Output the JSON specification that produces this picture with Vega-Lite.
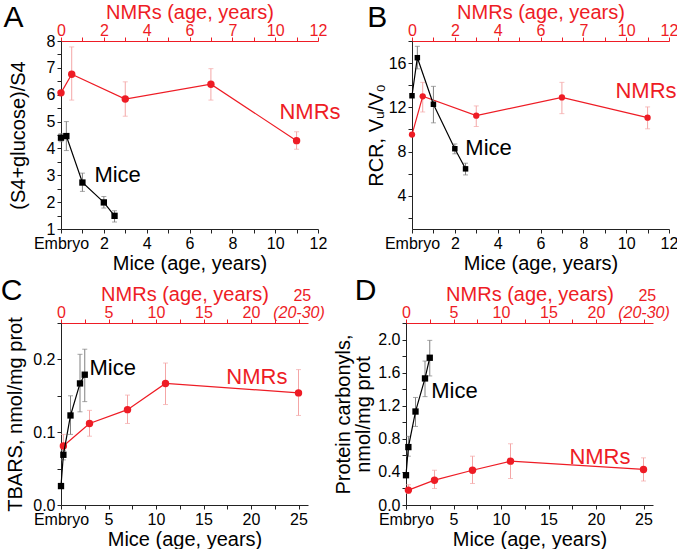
{
"$schema": "https://vega.github.io/schema/vega-lite/v6.json",
"padding": {"left": 0, "top": 2, "right": 0, "bottom": 0},
"background": "white",
"config": {
 "font": "Liberation Sans",
 "view": {"stroke": null},
 "axis": {"grid": false, "labelFontSize": 16, "titleFontSize": 20, "titleFontWeight": "normal", "labelColor": "black", "titleColor": "black", "domainColor": "#222", "tickColor": "#222", "labelFlush": false, "labelOverlap": false, "tickSize": 4, "labelPadding": 2, "titleLineHeight": 20}
},
"datasets": {
 "a": [
  {"sp": "NMR", "age": 0, "v": 6.07, "lo": null, "hi": null},
  {"sp": "NMR", "age": 0.5, "v": 6.76, "lo": 5.8, "hi": 7.78},
  {"sp": "NMR", "age": 3, "v": 5.84, "lo": 5.2, "hi": 6.48},
  {"sp": "NMR", "age": 7, "v": 6.39, "lo": 5.8, "hi": 6.97},
  {"sp": "NMR", "age": 11, "v": 4.29, "lo": 3.97, "hi": 4.62},
  {"sp": "Mice", "age": 0, "v": 4.4, "lo": 4.25, "hi": 4.55},
  {"sp": "Mice", "age": 0.25, "v": 4.46, "lo": 3.92, "hi": 5.0},
  {"sp": "Mice", "age": 1, "v": 2.73, "lo": 2.4, "hi": 3.08},
  {"sp": "Mice", "age": 2, "v": 1.99, "lo": 1.78, "hi": 2.21},
  {"sp": "Mice", "age": 2.5, "v": 1.49, "lo": 1.26, "hi": 1.68}
 ],
 "b": [
  {"sp": "NMR", "age": 0, "v": 9.54, "lo": null, "hi": null},
  {"sp": "NMR", "age": 0.5, "v": 13.0, "lo": 11.58, "hi": 14.26},
  {"sp": "NMR", "age": 3, "v": 11.25, "lo": 10.27, "hi": 12.13},
  {"sp": "NMR", "age": 7, "v": 12.9, "lo": 11.43, "hi": 14.26},
  {"sp": "NMR", "age": 11, "v": 11.07, "lo": 10.06, "hi": 12.04},
  {"sp": "Mice", "age": 0, "v": 13.05, "lo": null, "hi": null},
  {"sp": "Mice", "age": 0.25, "v": 16.49, "lo": 15.48, "hi": 17.52},
  {"sp": "Mice", "age": 1, "v": 12.28, "lo": 10.6, "hi": 13.9},
  {"sp": "Mice", "age": 2, "v": 8.26, "lo": 7.8, "hi": 8.69},
  {"sp": "Mice", "age": 2.5, "v": 6.44, "lo": 5.89, "hi": 6.95}
 ],
 "c": [
  {"sp": "NMR", "age": 0.25, "v": 0.081, "lo": 0.072, "hi": 0.097},
  {"sp": "NMR", "age": 3, "v": 0.112, "lo": 0.0945, "hi": 0.13},
  {"sp": "NMR", "age": 7, "v": 0.131, "lo": 0.112, "hi": 0.151},
  {"sp": "NMR", "age": 11, "v": 0.167, "lo": 0.138, "hi": 0.195},
  {"sp": "NMR", "age": 25, "v": 0.154, "lo": 0.123, "hi": 0.186},
  {"sp": "Mice", "age": 0, "v": 0.026, "lo": null, "hi": null},
  {"sp": "Mice", "age": 0.25, "v": 0.069, "lo": 0.062, "hi": 0.075},
  {"sp": "Mice", "age": 1, "v": 0.123, "lo": 0.097, "hi": 0.15},
  {"sp": "Mice", "age": 2, "v": 0.167, "lo": 0.128, "hi": 0.207},
  {"sp": "Mice", "age": 2.5, "v": 0.179, "lo": 0.142, "hi": 0.214}
 ],
 "d": [
  {"sp": "NMR", "age": 0.25, "v": 0.18, "lo": 0.14, "hi": 0.245},
  {"sp": "NMR", "age": 3, "v": 0.3, "lo": 0.2, "hi": 0.42},
  {"sp": "NMR", "age": 7, "v": 0.42, "lo": 0.26, "hi": 0.59},
  {"sp": "NMR", "age": 11, "v": 0.53, "lo": 0.32, "hi": 0.74},
  {"sp": "NMR", "age": 25, "v": 0.43, "lo": 0.29, "hi": 0.57},
  {"sp": "Mice", "age": 0, "v": 0.36, "lo": null, "hi": null},
  {"sp": "Mice", "age": 0.25, "v": 0.7, "lo": 0.59, "hi": 0.83},
  {"sp": "Mice", "age": 1, "v": 1.13, "lo": 0.95, "hi": 1.3},
  {"sp": "Mice", "age": 2, "v": 1.53, "lo": 1.31, "hi": 1.74},
  {"sp": "Mice", "age": 2.5, "v": 1.78, "lo": 1.56, "hi": 1.99}
 ]
},
"concat": [
 {"spacing": 25, "hconcat": [
  {
   "width": 257, "height": 188,
   "resolve": {"scale": {"x": "independent"}},
   "layer": [
    {
     "data": {"name": "a"},
     "transform": [{"filter": "datum.sp == 'NMR'"}],
     "encoding": {"x": {"field": "age", "type": "quantitative", "scale": {"domain": [0, 12], "nice": false},
       "axis": {"orient": "top", "title": "NMRs (age, years)", "values": [0,1,2,3,4,5,6,7,8,9,10,11,12], "labelOverlap": false, "labelExpr": "datum.value == 8 ? '7' : (datum.value % 2 == 0 ? datum.label : '')", "domainColor": "#ee1c25", "tickColor": "#ee1c25", "labelColor": "#ee1c25", "titleColor": "#ee1c25", "labelPadding": -1, "titlePadding": 0}}},
     "layer": [
      {"transform": [{"filter": "isValid(datum.lo)"}], "mark": {"type": "errorbar", "color": "#f4a6a6", "ticks": {"size": 5}}, "encoding": {"y": {"field": "lo", "type": "quantitative", "scale": {"domain": [1, 8], "nice": false}, "title": "(S4+glucose)/S4", "axis": {"values": [1,1.5,2,2.5,3,3.5,4,4.5,5,5.5,6,6.5,7,7.5,8], "labelOverlap": false, "labelExpr": "datum.value % 1 == 0 ? format(datum.value, 'd') : ''", "titlePadding": 18}}, "y2": {"field": "hi"}}},
      {"mark": {"type": "line", "color": "#ee1c25", "strokeWidth": 1.2}, "encoding": {"y": {"field": "v", "type": "quantitative", "scale": {"domain": [1, 8], "nice": false}, "title": "(S4+glucose)/S4", "axis": {"values": [1,1.5,2,2.5,3,3.5,4,4.5,5,5.5,6,6.5,7,7.5,8], "labelOverlap": false, "labelExpr": "datum.value % 1 == 0 ? format(datum.value, 'd') : ''", "titlePadding": 18}}}},
      {"mark": {"type": "point", "filled": true, "shape": "circle", "size": 55, "color": "#ee1c25", "opacity": 1}, "encoding": {"y": {"field": "v", "type": "quantitative", "scale": {"domain": [1, 8], "nice": false}, "title": "(S4+glucose)/S4", "axis": {"values": [1,1.5,2,2.5,3,3.5,4,4.5,5,5.5,6,6.5,7,7.5,8], "labelOverlap": false, "labelExpr": "datum.value % 1 == 0 ? format(datum.value, 'd') : ''", "titlePadding": 18}}}}
     ]
    },
    {
     "data": {"name": "a"},
     "transform": [{"filter": "datum.sp == 'Mice'"}],
     "encoding": {"x": {"field": "age", "type": "quantitative", "scale": {"domain": [0, 12], "nice": false},
       "axis": {"orient": "bottom", "title": "Mice (age, years)", "values": [0,1,2,3,4,5,6,7,8,9,10,11,12], "labelOverlap": false, "labelExpr": "datum.value == 0 ? 'Embryo' : (datum.value % 2 == 0 ? datum.label : '')", "titlePadding": 2}}},
     "layer": [
      {"transform": [{"filter": "isValid(datum.lo)"}], "mark": {"type": "errorbar", "color": "#808080", "ticks": {"size": 5}}, "encoding": {"y": {"field": "lo", "type": "quantitative", "scale": {"domain": [1, 8], "nice": false}, "title": "(S4+glucose)/S4", "axis": {"values": [1,1.5,2,2.5,3,3.5,4,4.5,5,5.5,6,6.5,7,7.5,8], "labelOverlap": false, "labelExpr": "datum.value % 1 == 0 ? format(datum.value, 'd') : ''", "titlePadding": 18}}, "y2": {"field": "hi"}}},
      {"mark": {"type": "line", "color": "black", "strokeWidth": 1.2}, "encoding": {"y": {"field": "v", "type": "quantitative", "scale": {"domain": [1, 8], "nice": false}, "title": "(S4+glucose)/S4", "axis": {"values": [1,1.5,2,2.5,3,3.5,4,4.5,5,5.5,6,6.5,7,7.5,8], "labelOverlap": false, "labelExpr": "datum.value % 1 == 0 ? format(datum.value, 'd') : ''", "titlePadding": 18}}}},
      {"mark": {"type": "point", "filled": true, "shape": "square", "size": 40, "color": "black", "opacity": 1}, "encoding": {"y": {"field": "v", "type": "quantitative", "scale": {"domain": [1, 8], "nice": false}, "title": "(S4+glucose)/S4", "axis": {"values": [1,1.5,2,2.5,3,3.5,4,4.5,5,5.5,6,6.5,7,7.5,8], "labelOverlap": false, "labelExpr": "datum.value % 1 == 0 ? format(datum.value, 'd') : ''", "titlePadding": 18}}}}
     ]
    },
    {
     "data": {"values": [{}]},
     "layer": [
      {"mark": {"type": "text", "text": "A", "color": "black", "fontSize": 30, "align": "left", "baseline": "alphabetic"}, "encoding": {"x": {"datum": -2.68, "type": "quantitative", "scale": {"domain": [0, 12], "nice": false}, "axis": null}, "y": {"datum": 8.52, "type": "quantitative", "scale": {"domain": [1, 8], "nice": false}, "title": "(S4+glucose)/S4", "axis": {"values": [1,1.5,2,2.5,3,3.5,4,4.5,5,5.5,6,6.5,7,7.5,8], "labelOverlap": false, "labelExpr": "datum.value % 1 == 0 ? format(datum.value, 'd') : ''", "titlePadding": 18}}}},
      {"mark": {"type": "text", "text": "NMRs", "color": "#ee1c25", "fontSize": 22, "align": "left", "baseline": "middle"}, "encoding": {"x": {"datum": 10.2, "type": "quantitative", "scale": {"domain": [0, 12], "nice": false}, "axis": null}, "y": {"datum": 5.37, "type": "quantitative", "scale": {"domain": [1, 8], "nice": false}, "title": "(S4+glucose)/S4", "axis": {"values": [1,1.5,2,2.5,3,3.5,4,4.5,5,5.5,6,6.5,7,7.5,8], "labelOverlap": false, "labelExpr": "datum.value % 1 == 0 ? format(datum.value, 'd') : ''", "titlePadding": 18}}}},
      {"mark": {"type": "text", "text": "Mice", "color": "black", "fontSize": 22, "align": "left", "baseline": "middle"}, "encoding": {"x": {"datum": 1.56, "type": "quantitative", "scale": {"domain": [0, 12], "nice": false}, "axis": null}, "y": {"datum": 3.0, "type": "quantitative", "scale": {"domain": [1, 8], "nice": false}, "title": "(S4+glucose)/S4", "axis": {"values": [1,1.5,2,2.5,3,3.5,4,4.5,5,5.5,6,6.5,7,7.5,8], "labelOverlap": false, "labelExpr": "datum.value % 1 == 0 ? format(datum.value, 'd') : ''", "titlePadding": 18}}}}
     ]
    }
   ]
  },
  {
   "width": 257, "height": 188,
   "resolve": {"scale": {"x": "independent"}},
   "layer": [
    {
     "data": {"name": "b"},
     "transform": [{"filter": "datum.sp == 'NMR'"}],
     "encoding": {"x": {"field": "age", "type": "quantitative", "scale": {"domain": [0, 12], "nice": false},
       "axis": {"orient": "top", "title": "NMRs (age, years)", "values": [0,1,2,3,4,5,6,7,8,9,10,11,12], "labelOverlap": false, "labelExpr": "datum.value == 8 ? '7' : (datum.value % 2 == 0 ? datum.label : '')", "domainColor": "#ee1c25", "tickColor": "#ee1c25", "labelColor": "#ee1c25", "titleColor": "#ee1c25", "labelPadding": -1, "titlePadding": 0}}},
     "layer": [
      {"transform": [{"filter": "isValid(datum.lo)"}], "mark": {"type": "errorbar", "color": "#f4a6a6", "ticks": {"size": 5}}, "encoding": {"y": {"field": "lo", "type": "quantitative", "scale": {"domain": [1, 18], "nice": false}, "title": "RCR, Vᵤ/V₀", "axis": {"values": [2,4,6,8,10,12,14,16,18], "labelOverlap": false, "labelExpr": "datum.value % 4 == 0 ? datum.label : ''", "titlePadding": 2}}, "y2": {"field": "hi"}}},
      {"mark": {"type": "line", "color": "#ee1c25", "strokeWidth": 1.2}, "encoding": {"y": {"field": "v", "type": "quantitative", "scale": {"domain": [1, 18], "nice": false}, "title": "RCR, Vᵤ/V₀", "axis": {"values": [2,4,6,8,10,12,14,16,18], "labelOverlap": false, "labelExpr": "datum.value % 4 == 0 ? datum.label : ''", "titlePadding": 2}}}},
      {"mark": {"type": "point", "filled": true, "shape": "circle", "size": 40, "color": "#ee1c25", "opacity": 1}, "encoding": {"y": {"field": "v", "type": "quantitative", "scale": {"domain": [1, 18], "nice": false}, "title": "RCR, Vᵤ/V₀", "axis": {"values": [2,4,6,8,10,12,14,16,18], "labelOverlap": false, "labelExpr": "datum.value % 4 == 0 ? datum.label : ''", "titlePadding": 2}}}}
     ]
    },
    {
     "data": {"name": "b"},
     "transform": [{"filter": "datum.sp == 'Mice'"}],
     "encoding": {"x": {"field": "age", "type": "quantitative", "scale": {"domain": [0, 12], "nice": false},
       "axis": {"orient": "bottom", "title": "Mice (age, years)", "values": [0,1,2,3,4,5,6,7,8,9,10,11,12], "labelOverlap": false, "labelExpr": "datum.value == 0 ? 'Embryo' : (datum.value % 2 == 0 ? datum.label : '')", "titlePadding": 2}}},
     "layer": [
      {"transform": [{"filter": "isValid(datum.lo)"}], "mark": {"type": "errorbar", "color": "#808080", "ticks": {"size": 5}}, "encoding": {"y": {"field": "lo", "type": "quantitative", "scale": {"domain": [1, 18], "nice": false}, "title": "RCR, Vᵤ/V₀", "axis": {"values": [2,4,6,8,10,12,14,16,18], "labelOverlap": false, "labelExpr": "datum.value % 4 == 0 ? datum.label : ''", "titlePadding": 2}}, "y2": {"field": "hi"}}},
      {"mark": {"type": "line", "color": "black", "strokeWidth": 1.2}, "encoding": {"y": {"field": "v", "type": "quantitative", "scale": {"domain": [1, 18], "nice": false}, "title": "RCR, Vᵤ/V₀", "axis": {"values": [2,4,6,8,10,12,14,16,18], "labelOverlap": false, "labelExpr": "datum.value % 4 == 0 ? datum.label : ''", "titlePadding": 2}}}},
      {"mark": {"type": "point", "filled": true, "shape": "square", "size": 30, "color": "black", "opacity": 1}, "encoding": {"y": {"field": "v", "type": "quantitative", "scale": {"domain": [1, 18], "nice": false}, "title": "RCR, Vᵤ/V₀", "axis": {"values": [2,4,6,8,10,12,14,16,18], "labelOverlap": false, "labelExpr": "datum.value % 4 == 0 ? datum.label : ''", "titlePadding": 2}}}}
     ]
    },
    {
     "data": {"values": [{}]},
     "layer": [
      {"mark": {"type": "text", "text": "B", "color": "black", "fontSize": 30, "align": "left", "baseline": "alphabetic"}, "encoding": {"x": {"datum": -2.09, "type": "quantitative", "scale": {"domain": [0, 12], "nice": false}, "axis": null}, "y": {"datum": 19.27, "type": "quantitative", "scale": {"domain": [1, 18], "nice": false}, "title": "RCR, Vᵤ/V₀", "axis": {"values": [2,4,6,8,10,12,14,16,18], "labelOverlap": false, "labelExpr": "datum.value % 4 == 0 ? datum.label : ''", "titlePadding": 2}}}},
      {"mark": {"type": "text", "text": "NMRs", "color": "#ee1c25", "fontSize": 22, "align": "left", "baseline": "middle"}, "encoding": {"x": {"datum": 9.5, "type": "quantitative", "scale": {"domain": [0, 12], "nice": false}, "axis": null}, "y": {"datum": 13.5, "type": "quantitative", "scale": {"domain": [1, 18], "nice": false}, "title": "RCR, Vᵤ/V₀", "axis": {"values": [2,4,6,8,10,12,14,16,18], "labelOverlap": false, "labelExpr": "datum.value % 4 == 0 ? datum.label : ''", "titlePadding": 2}}}},
      {"mark": {"type": "text", "text": "Mice", "color": "black", "fontSize": 22, "align": "left", "baseline": "middle"}, "encoding": {"x": {"datum": 2.49, "type": "quantitative", "scale": {"domain": [0, 12], "nice": false}, "axis": null}, "y": {"datum": 8.33, "type": "quantitative", "scale": {"domain": [1, 18], "nice": false}, "title": "RCR, Vᵤ/V₀", "axis": {"values": [2,4,6,8,10,12,14,16,18], "labelOverlap": false, "labelExpr": "datum.value % 4 == 0 ? datum.label : ''", "titlePadding": 2}}}}
     ]
    }
   ]
  }
 ]},
 {"spacing": 8, "hconcat": [
  {
   "width": 247, "height": 182,
   "resolve": {"scale": {"x": "independent"}},
   "layer": [
    {
     "data": {"name": "c"},
     "transform": [{"filter": "datum.sp == 'NMR'"}],
     "encoding": {"x": {"field": "age", "type": "quantitative", "scale": {"domain": [0, 26], "nice": false},
       "axis": {"orient": "top", "title": "NMRs (age, years)", "values": [0,2.5,5,7.5,10,12.5,15,17.5,20,22.5,25], "labelOverlap": false, "labelExpr": "datum.value == 25 ? '(20-30)' : (datum.value % 5 == 0 ? datum.label : '')", "labelFontStyle": {"condition": {"test": "datum.value == 25", "value": "italic"}, "value": "normal"}, "domainColor": "#ee1c25", "tickColor": "#ee1c25", "labelColor": "#ee1c25", "titleColor": "#ee1c25", "labelPadding": -1, "titlePadding": 0}}},
     "layer": [
      {"transform": [{"filter": "isValid(datum.lo)"}], "mark": {"type": "errorbar", "color": "#f4a6a6", "ticks": {"size": 5}}, "encoding": {"y": {"field": "lo", "type": "quantitative", "scale": {"domain": [0, 0.25], "nice": false}, "title": "TBARS, nmol/mg prot", "axis": {"values": [0,0.05,0.1,0.15,0.2,0.25], "labelOverlap": false, "labelExpr": "round(datum.value*100) % 10 == 0 ? format(datum.value, '.1f') : ''", "titlePadding": 7}}, "y2": {"field": "hi"}}},
      {"mark": {"type": "line", "color": "#ee1c25", "strokeWidth": 1.2}, "encoding": {"y": {"field": "v", "type": "quantitative", "scale": {"domain": [0, 0.25], "nice": false}, "title": "TBARS, nmol/mg prot", "axis": {"values": [0,0.05,0.1,0.15,0.2,0.25], "labelOverlap": false, "labelExpr": "round(datum.value*100) % 10 == 0 ? format(datum.value, '.1f') : ''", "titlePadding": 7}}}},
      {"mark": {"type": "point", "filled": true, "shape": "circle", "size": 55, "color": "#ee1c25", "opacity": 1}, "encoding": {"y": {"field": "v", "type": "quantitative", "scale": {"domain": [0, 0.25], "nice": false}, "title": "TBARS, nmol/mg prot", "axis": {"values": [0,0.05,0.1,0.15,0.2,0.25], "labelOverlap": false, "labelExpr": "round(datum.value*100) % 10 == 0 ? format(datum.value, '.1f') : ''", "titlePadding": 7}}}}
     ]
    },
    {
     "data": {"name": "c"},
     "transform": [{"filter": "datum.sp == 'Mice'"}],
     "encoding": {"x": {"field": "age", "type": "quantitative", "scale": {"domain": [0, 26], "nice": false},
       "axis": {"orient": "bottom", "title": "Mice (age, years)", "values": [0,2.5,5,7.5,10,12.5,15,17.5,20,22.5,25], "labelOverlap": false, "labelExpr": "datum.value == 0 ? 'Embryo' : (datum.value % 5 == 0 ? datum.label : '')", "titlePadding": 2}}},
     "layer": [
      {"transform": [{"filter": "isValid(datum.lo)"}], "mark": {"type": "errorbar", "color": "#808080", "ticks": {"size": 5}}, "encoding": {"y": {"field": "lo", "type": "quantitative", "scale": {"domain": [0, 0.25], "nice": false}, "title": "TBARS, nmol/mg prot", "axis": {"values": [0,0.05,0.1,0.15,0.2,0.25], "labelOverlap": false, "labelExpr": "round(datum.value*100) % 10 == 0 ? format(datum.value, '.1f') : ''", "titlePadding": 7}}, "y2": {"field": "hi"}}},
      {"mark": {"type": "line", "color": "black", "strokeWidth": 1.2}, "encoding": {"y": {"field": "v", "type": "quantitative", "scale": {"domain": [0, 0.25], "nice": false}, "title": "TBARS, nmol/mg prot", "axis": {"values": [0,0.05,0.1,0.15,0.2,0.25], "labelOverlap": false, "labelExpr": "round(datum.value*100) % 10 == 0 ? format(datum.value, '.1f') : ''", "titlePadding": 7}}}},
      {"mark": {"type": "point", "filled": true, "shape": "square", "size": 40, "color": "black", "opacity": 1}, "encoding": {"y": {"field": "v", "type": "quantitative", "scale": {"domain": [0, 0.25], "nice": false}, "title": "TBARS, nmol/mg prot", "axis": {"values": [0,0.05,0.1,0.15,0.2,0.25], "labelOverlap": false, "labelExpr": "round(datum.value*100) % 10 == 0 ? format(datum.value, '.1f') : ''", "titlePadding": 7}}}}
     ]
    },
    {
     "data": {"values": [{}]},
     "layer": [
      {"mark": {"type": "text", "text": "C", "color": "black", "fontSize": 30, "align": "left", "baseline": "alphabetic"}, "encoding": {"x": {"datum": -6.35, "type": "quantitative", "scale": {"domain": [0, 26], "nice": false}, "axis": null}, "y": {"datum": 0.2822, "type": "quantitative", "scale": {"domain": [0, 0.25], "nice": false}, "title": "TBARS, nmol/mg prot", "axis": {"values": [0,0.05,0.1,0.15,0.2,0.25], "labelOverlap": false, "labelExpr": "round(datum.value*100) % 10 == 0 ? format(datum.value, '.1f') : ''", "titlePadding": 7}}}},
      {"mark": {"type": "text", "text": "NMRs", "color": "#ee1c25", "fontSize": 22, "align": "left", "baseline": "middle"}, "encoding": {"x": {"datum": 17.4, "type": "quantitative", "scale": {"domain": [0, 26], "nice": false}, "axis": null}, "y": {"datum": 0.176, "type": "quantitative", "scale": {"domain": [0, 0.25], "nice": false}, "title": "TBARS, nmol/mg prot", "axis": {"values": [0,0.05,0.1,0.15,0.2,0.25], "labelOverlap": false, "labelExpr": "round(datum.value*100) % 10 == 0 ? format(datum.value, '.1f') : ''", "titlePadding": 7}}}},
      {"mark": {"type": "text", "text": "Mice", "color": "black", "fontSize": 22, "align": "left", "baseline": "middle"}, "encoding": {"x": {"datum": 3.0, "type": "quantitative", "scale": {"domain": [0, 26], "nice": false}, "axis": null}, "y": {"datum": 0.188, "type": "quantitative", "scale": {"domain": [0, 0.25], "nice": false}, "title": "TBARS, nmol/mg prot", "axis": {"values": [0,0.05,0.1,0.15,0.2,0.25], "labelOverlap": false, "labelExpr": "round(datum.value*100) % 10 == 0 ? format(datum.value, '.1f') : ''", "titlePadding": 7}}}},
      {"mark": {"type": "text", "text": "25", "color": "#ee1c25", "fontSize": 16, "align": "center", "baseline": "middle"}, "encoding": {"x": {"datum": 25.4, "type": "quantitative", "scale": {"domain": [0, 26], "nice": false}, "axis": null}, "y": {"datum": 0.2877, "type": "quantitative", "scale": {"domain": [0, 0.25], "nice": false}, "title": "TBARS, nmol/mg prot", "axis": {"values": [0,0.05,0.1,0.15,0.2,0.25], "labelOverlap": false, "labelExpr": "round(datum.value*100) % 10 == 0 ? format(datum.value, '.1f') : ''", "titlePadding": 7}}}}
     ]
    }
   ]
  },
  {
   "width": 247, "height": 182,
   "resolve": {"scale": {"x": "independent"}},
   "layer": [
    {
     "data": {"name": "d"},
     "transform": [{"filter": "datum.sp == 'NMR'"}],
     "encoding": {"x": {"field": "age", "type": "quantitative", "scale": {"domain": [0, 26], "nice": false},
       "axis": {"orient": "top", "title": "NMRs (age, years)", "values": [0,2.5,5,7.5,10,12.5,15,17.5,20,22.5,25], "labelOverlap": false, "labelExpr": "datum.value == 25 ? '(20-30)' : (datum.value % 5 == 0 ? datum.label : '')", "labelFontStyle": {"condition": {"test": "datum.value == 25", "value": "italic"}, "value": "normal"}, "domainColor": "#ee1c25", "tickColor": "#ee1c25", "labelColor": "#ee1c25", "titleColor": "#ee1c25", "labelPadding": -1, "titlePadding": 0}}},
     "layer": [
      {"transform": [{"filter": "isValid(datum.lo)"}], "mark": {"type": "errorbar", "color": "#f4a6a6", "ticks": {"size": 5}}, "encoding": {"y": {"field": "lo", "type": "quantitative", "scale": {"domain": [0, 2.2], "nice": false}, "title": ["Protein carbonyls,", "nmol/mg prot"], "axis": {"values": [0,0.2,0.4,0.6,0.8,1.0,1.2,1.4,1.6,1.8,2.0,2.2], "labelOverlap": false, "labelExpr": "round(datum.value*10) % 4 == 0 ? format(datum.value, '.1f') : ''", "titlePadding": 4}}, "y2": {"field": "hi"}}},
      {"mark": {"type": "line", "color": "#ee1c25", "strokeWidth": 1.2}, "encoding": {"y": {"field": "v", "type": "quantitative", "scale": {"domain": [0, 2.2], "nice": false}, "title": ["Protein carbonyls,", "nmol/mg prot"], "axis": {"values": [0,0.2,0.4,0.6,0.8,1.0,1.2,1.4,1.6,1.8,2.0,2.2], "labelOverlap": false, "labelExpr": "round(datum.value*10) % 4 == 0 ? format(datum.value, '.1f') : ''", "titlePadding": 4}}}},
      {"mark": {"type": "point", "filled": true, "shape": "circle", "size": 55, "color": "#ee1c25", "opacity": 1}, "encoding": {"y": {"field": "v", "type": "quantitative", "scale": {"domain": [0, 2.2], "nice": false}, "title": ["Protein carbonyls,", "nmol/mg prot"], "axis": {"values": [0,0.2,0.4,0.6,0.8,1.0,1.2,1.4,1.6,1.8,2.0,2.2], "labelOverlap": false, "labelExpr": "round(datum.value*10) % 4 == 0 ? format(datum.value, '.1f') : ''", "titlePadding": 4}}}}
     ]
    },
    {
     "data": {"name": "d"},
     "transform": [{"filter": "datum.sp == 'Mice'"}],
     "encoding": {"x": {"field": "age", "type": "quantitative", "scale": {"domain": [0, 26], "nice": false},
       "axis": {"orient": "bottom", "title": "Mice (age, years)", "values": [0,2.5,5,7.5,10,12.5,15,17.5,20,22.5,25], "labelOverlap": false, "labelExpr": "datum.value == 0 ? 'Embryo' : (datum.value % 5 == 0 ? datum.label : '')", "titlePadding": 2}}},
     "layer": [
      {"transform": [{"filter": "isValid(datum.lo)"}], "mark": {"type": "errorbar", "color": "#808080", "ticks": {"size": 5}}, "encoding": {"y": {"field": "lo", "type": "quantitative", "scale": {"domain": [0, 2.2], "nice": false}, "title": ["Protein carbonyls,", "nmol/mg prot"], "axis": {"values": [0,0.2,0.4,0.6,0.8,1.0,1.2,1.4,1.6,1.8,2.0,2.2], "labelOverlap": false, "labelExpr": "round(datum.value*10) % 4 == 0 ? format(datum.value, '.1f') : ''", "titlePadding": 4}}, "y2": {"field": "hi"}}},
      {"mark": {"type": "line", "color": "black", "strokeWidth": 1.2}, "encoding": {"y": {"field": "v", "type": "quantitative", "scale": {"domain": [0, 2.2], "nice": false}, "title": ["Protein carbonyls,", "nmol/mg prot"], "axis": {"values": [0,0.2,0.4,0.6,0.8,1.0,1.2,1.4,1.6,1.8,2.0,2.2], "labelOverlap": false, "labelExpr": "round(datum.value*10) % 4 == 0 ? format(datum.value, '.1f') : ''", "titlePadding": 4}}}},
      {"mark": {"type": "point", "filled": true, "shape": "square", "size": 40, "color": "black", "opacity": 1}, "encoding": {"y": {"field": "v", "type": "quantitative", "scale": {"domain": [0, 2.2], "nice": false}, "title": ["Protein carbonyls,", "nmol/mg prot"], "axis": {"values": [0,0.2,0.4,0.6,0.8,1.0,1.2,1.4,1.6,1.8,2.0,2.2], "labelOverlap": false, "labelExpr": "round(datum.value*10) % 4 == 0 ? format(datum.value, '.1f') : ''", "titlePadding": 4}}}}
     ]
    },
    {
     "data": {"values": [{}]},
     "layer": [
      {"mark": {"type": "text", "text": "D", "color": "black", "fontSize": 30, "align": "left", "baseline": "alphabetic"}, "encoding": {"x": {"datum": -5.4, "type": "quantitative", "scale": {"domain": [0, 26], "nice": false}, "axis": null}, "y": {"datum": 2.483, "type": "quantitative", "scale": {"domain": [0, 2.2], "nice": false}, "title": ["Protein carbonyls,", "nmol/mg prot"], "axis": {"values": [0,0.2,0.4,0.6,0.8,1.0,1.2,1.4,1.6,1.8,2.0,2.2], "labelOverlap": false, "labelExpr": "round(datum.value*10) % 4 == 0 ? format(datum.value, '.1f') : ''", "titlePadding": 4}}}},
      {"mark": {"type": "text", "text": "NMRs", "color": "#ee1c25", "fontSize": 22, "align": "left", "baseline": "middle"}, "encoding": {"x": {"datum": 17.2, "type": "quantitative", "scale": {"domain": [0, 26], "nice": false}, "axis": null}, "y": {"datum": 0.58, "type": "quantitative", "scale": {"domain": [0, 2.2], "nice": false}, "title": ["Protein carbonyls,", "nmol/mg prot"], "axis": {"values": [0,0.2,0.4,0.6,0.8,1.0,1.2,1.4,1.6,1.8,2.0,2.2], "labelOverlap": false, "labelExpr": "round(datum.value*10) % 4 == 0 ? format(datum.value, '.1f') : ''", "titlePadding": 4}}}},
      {"mark": {"type": "text", "text": "Mice", "color": "black", "fontSize": 22, "align": "left", "baseline": "middle"}, "encoding": {"x": {"datum": 2.66, "type": "quantitative", "scale": {"domain": [0, 26], "nice": false}, "axis": null}, "y": {"datum": 1.38, "type": "quantitative", "scale": {"domain": [0, 2.2], "nice": false}, "title": ["Protein carbonyls,", "nmol/mg prot"], "axis": {"values": [0,0.2,0.4,0.6,0.8,1.0,1.2,1.4,1.6,1.8,2.0,2.2], "labelOverlap": false, "labelExpr": "round(datum.value*10) % 4 == 0 ? format(datum.value, '.1f') : ''", "titlePadding": 4}}}},
      {"mark": {"type": "text", "text": "25", "color": "#ee1c25", "fontSize": 16, "align": "center", "baseline": "middle"}, "encoding": {"x": {"datum": 25.4, "type": "quantitative", "scale": {"domain": [0, 26], "nice": false}, "axis": null}, "y": {"datum": 2.532, "type": "quantitative", "scale": {"domain": [0, 2.2], "nice": false}, "title": ["Protein carbonyls,", "nmol/mg prot"], "axis": {"values": [0,0.2,0.4,0.6,0.8,1.0,1.2,1.4,1.6,1.8,2.0,2.2], "labelOverlap": false, "labelExpr": "round(datum.value*10) % 4 == 0 ? format(datum.value, '.1f') : ''", "titlePadding": 4}}}}
     ]
    }
   ]
  }
 ]}
],
"columns": 1,
"align": "none",
"spacing": 2
}
